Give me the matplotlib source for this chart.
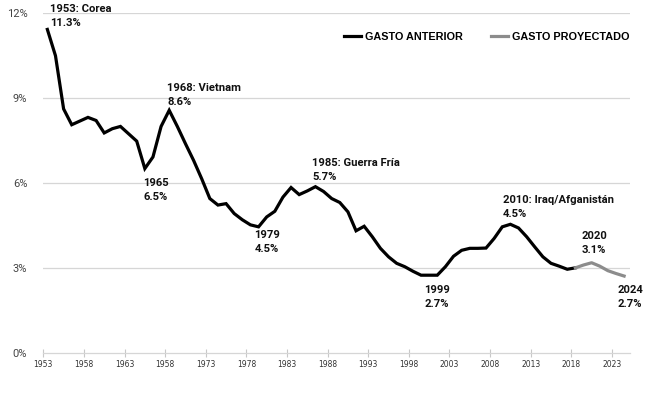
import matplotlib.pyplot as plt

years = list(range(1953, 2019))
spending = [11.43, 10.5, 8.62, 8.06, 8.19, 8.32, 8.21, 7.77, 7.92, 8.0,
            7.74, 7.48, 6.51, 6.92, 8.0, 8.57, 8.0, 7.39, 6.8, 6.15,
            5.45, 5.22, 5.27, 4.92, 4.7, 4.52, 4.45, 4.8, 5.0, 5.5,
            5.84, 5.59, 5.72, 5.87, 5.7, 5.45, 5.31, 4.98, 4.31, 4.47,
            4.1, 3.69, 3.39, 3.16, 3.04, 2.88, 2.74, 2.74, 2.74, 3.04,
            3.41, 3.62, 3.69, 3.69, 3.7, 4.04, 4.45, 4.54, 4.41, 4.1,
            3.74, 3.39, 3.16, 3.06, 2.95, 3.0]

proj_years = list(range(2018, 2025))
proj_spending = [3.0, 3.1, 3.18, 3.06, 2.9, 2.8, 2.71]

tick_years = list(range(1953, 2024, 5))
tick_labels = ['1953', '1958', '1963', '1958', '1973', '1978', '1983', '1988',
               '1993', '1998', '2003', '2008', '2013', '2018', '2023']

# (text, x, y) for the callouts
notes = [
    ("1953: Corea\n11.3%", 1953.3, 12.34),
    ("1968: Vietnam\n8.6%", 1967.75, 9.54),
    ("1965\n6.5%", 1964.78, 6.18),
    ("1979\n4.5%", 1978.5, 4.33),
    ("1985: Guerra Fría\n5.7%", 1985.58, 6.88),
    ("1999\n2.7%", 1999.4, 2.39),
    ("2010: Iraq/Afganistán\n4.5%", 2009.07, 5.57),
    ("2020\n3.1%", 2018.74, 4.31),
    ("2024\n2.7%", 2023.2, 2.39),
]

plt.rcParams['font.family'] = ['Roboto', 'DejaVu Sans']

fig = plt.figure(figsize=(6.54, 3.97), dpi=100)
ax = fig.add_axes([0.0662, 0.1116, 0.8968, 0.8549])

ax.plot(years, spending, color='black', lw=2.3, solid_joinstyle='miter',
        label='GASTO ANTERIOR', zorder=3)
ax.plot(proj_years, proj_spending, color='#8c8c8c', lw=2.3,
        label='GASTO PROYECTADO', zorder=3)

ax.set_xlim(1952.5, 2024.7)
ax.set_ylim(0, 12)

for v in [3, 6, 9, 12]:
    ax.axhline(v, color='#d6d6d6', lw=0.9, zorder=1)

ax.set_yticks([0, 3, 6, 9, 12])
ax.set_yticklabels(['0%', '3%', '6%', '9%', '12%'])
ax.tick_params(axis='y', length=0, pad=11.5, labelsize=8, labelcolor='#444444')

ax.set_xticks([y - 0.5 for y in tick_years])
ax.set_xticklabels(tick_labels, fontfamily='Liberation Sans Narrow')
ax.tick_params(axis='x', direction='inout', length=6, width=0.8,
               color='#c8c8c8', labelsize=5.5, pad=2, labelcolor='#333333')

for s in ['top', 'right', 'left']:
    ax.spines[s].set_visible(False)
ax.spines['bottom'].set_color('#d6d6d6')
ax.spines['bottom'].set_linewidth(0.9)

for txt, x, y in notes:
    ax.text(x, y, txt, fontsize=8.1, fontweight='bold', color='#111111',
            va='top', ha='left', linespacing=1.5, zorder=4)

leg = ax.legend(loc='upper right', bbox_to_anchor=(1.016, 0.975), ncol=2,
                frameon=False, handlelength=1.6, handletextpad=0.35,
                columnspacing=2.6, prop={'family': 'Liberation Sans',
                                         'weight': 'bold', 'size': 7.8})

fig.savefig('out.png', dpi=100)
